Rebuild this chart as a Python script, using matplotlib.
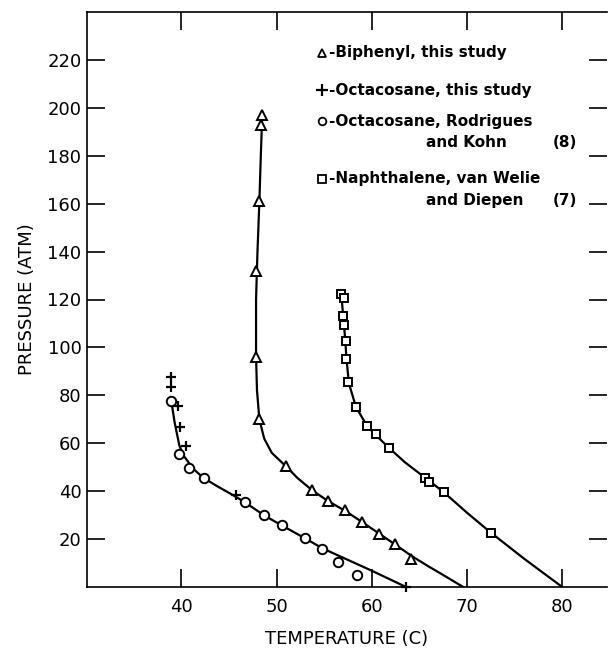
import numpy as np
import matplotlib
matplotlib.use('Agg')
import matplotlib.pyplot as plt

# --- data (temperature C, pressure atm) ---
biphenyl_t = [48.5, 48.4, 48.2, 47.85, 47.85, 48.2, 50.95, 53.7, 55.4, 57.2, 59.0, 60.8, 62.4, 64.15]
biphenyl_p = [197, 193, 161, 132, 96, 70, 50.5, 40.5, 35.9, 32.0, 27.1, 22.0, 17.8, 11.8]
biphenyl_fit_t = [48.5, 48.35, 48.2, 48.0, 47.85, 47.85, 47.95, 48.2, 48.7, 49.5, 50.95, 52.2, 53.7,
                  55.4, 57.2, 59.0, 60.8, 62.4, 64.2, 66.0, 67.8, 69.6]
biphenyl_fit_p = [197, 180, 161, 140, 120, 96, 82, 70, 62, 56, 50.5, 45.5, 40.5,
                  35.9, 31.8, 27.1, 22.2, 17.9, 12.9, 8.5, 4.3, 0]

octa_t = [38.9, 38.9, 39.7, 39.9, 40.5, 45.7, 63.6]
octa_p = [87.5, 83.6, 75.6, 66.6, 58.7, 38.2, 0]

rk_t = [38.9, 39.75, 40.77, 42.34, 46.72, 48.71, 50.57, 52.95, 54.77, 56.45, 58.44]
rk_p = [77.5, 55.6, 49.6, 45.3, 35.6, 29.9, 25.7, 20.3, 15.7, 10.5, 5.2]
octa_fit_t = [38.9, 39.3, 39.8, 40.3, 41.3, 42.3, 43.8, 45.5, 46.7, 48.7, 50.6, 53.0, 54.8, 57.0, 60.0, 63.6]
octa_fit_p = [79, 68.7, 59, 54.5, 49.2, 45.6, 42.0, 38.2, 35.3, 29.9, 25.6, 20.3, 16.2, 12.2, 6.8, 0]

naph_t = [56.8, 57.05, 57.0, 57.05, 57.3, 57.3, 57.55, 58.35, 59.55, 60.4, 61.85, 65.55, 66.05, 67.55, 72.5]
naph_p = [122.4, 120.6, 113.3, 109.4, 102.8, 95.2, 85.4, 75.0, 67.2, 63.8, 57.9, 45.7, 43.9, 39.7, 22.7]
naph_fit_t = [56.8, 57.0, 57.2, 57.35, 57.6, 58.35, 59.5, 60.4, 61.85, 63.5, 65.6, 67.55, 70.0, 72.5, 76.0, 80.0]
naph_fit_p = [122.4, 113, 104, 95, 85, 75, 67.3, 63.5, 57.9, 52, 45.6, 39.6, 31, 22.7, 11.8, 0]

xticks = [40, 50, 60, 70, 80]
yticks = [20, 40, 60, 80, 100, 120, 140, 160, 180, 200, 220]

legend_rows = [
    ('^', '-Biphenyl, this study', None),
    ('+', '-Octacosane, this study', None),
    ('o', '-Octacosane, Rodrigues', ('and Kohn', '(8)')),
    ('s', '-Naphthalene, van Welie', ('and Diepen', '(7)')),
]

plt.rcParams['font.family'] = 'DejaVu Sans'

fig = plt.figure(figsize=(6.08, 6.49), dpi=100)
ax = fig.add_axes([87/608, 62/649, 520/608, 575/649])

lw = 1.6
ax.plot(biphenyl_fit_t, biphenyl_fit_p, color='black', lw=lw)
ax.plot(octa_fit_t, octa_fit_p, color='black', lw=lw)
ax.plot(naph_fit_t, naph_fit_p, color='black', lw=lw)

ax.plot(biphenyl_t, biphenyl_p, ls='none', marker='^', ms=7, mfc='white', mec='black', mew=1.4)
ax.plot(rk_t, rk_p, ls='none', marker='o', ms=6.8, mfc='white', mec='black', mew=1.4)
ax.plot(naph_t, naph_p, ls='none', marker='s', ms=5.8, mfc='white', mec='black', mew=1.4)
ax.plot(octa_t, octa_p, ls='none', marker='+', ms=7.5, mec='black', mew=1.6, clip_on=False)

ax.set_xlim(30.1, 84.7)
ax.set_ylim(0, 240)
ax.set_xticks(xticks)
ax.set_yticks(yticks)
ax.tick_params(axis='both', direction='in', length=13, width=1.2, labelsize=13,
               top=True, right=True, labeltop=False, labelright=False)
ax.tick_params(axis='x', pad=8)
ax.tick_params(axis='y', pad=4)
for s in ['left', 'bottom', 'top']:
    ax.spines[s].set_linewidth(1.2)
ax.spines['right'].set_visible(False)

ax.set_xlabel('TEMPERATURE (C)', fontsize=13, labelpad=10)
ax.set_ylabel('PRESSURE (ATM)', fontsize=13, labelpad=8)

# hand-lettered legend
ys = [0.929, 0.864, 0.810, 0.710]
for (mk, txt, extra), y in zip(legend_rows, ys):
    if mk == '+':
        ax.plot([0.452], [y], transform=ax.transAxes, marker=mk, ms=8, mec='black', mew=1.6, ls='none')
    else:
        ax.plot([0.452], [y], transform=ax.transAxes, marker=mk, ms=5.5, mfc='white',
                mec='black', mew=1.3, ls='none')
    ax.text(0.465, y, txt, transform=ax.transAxes, fontsize=11, fontweight='bold',
            va='center', ha='left')
    if extra is not None:
        ax.text(0.652, y - 0.037, extra[0], transform=ax.transAxes, fontsize=11,
                fontweight='bold', va='center', ha='left')
        ax.text(0.895, y - 0.037, extra[1], transform=ax.transAxes, fontsize=11,
                fontweight='bold', va='center', ha='left')

fig.savefig('out.png', dpi=100)
